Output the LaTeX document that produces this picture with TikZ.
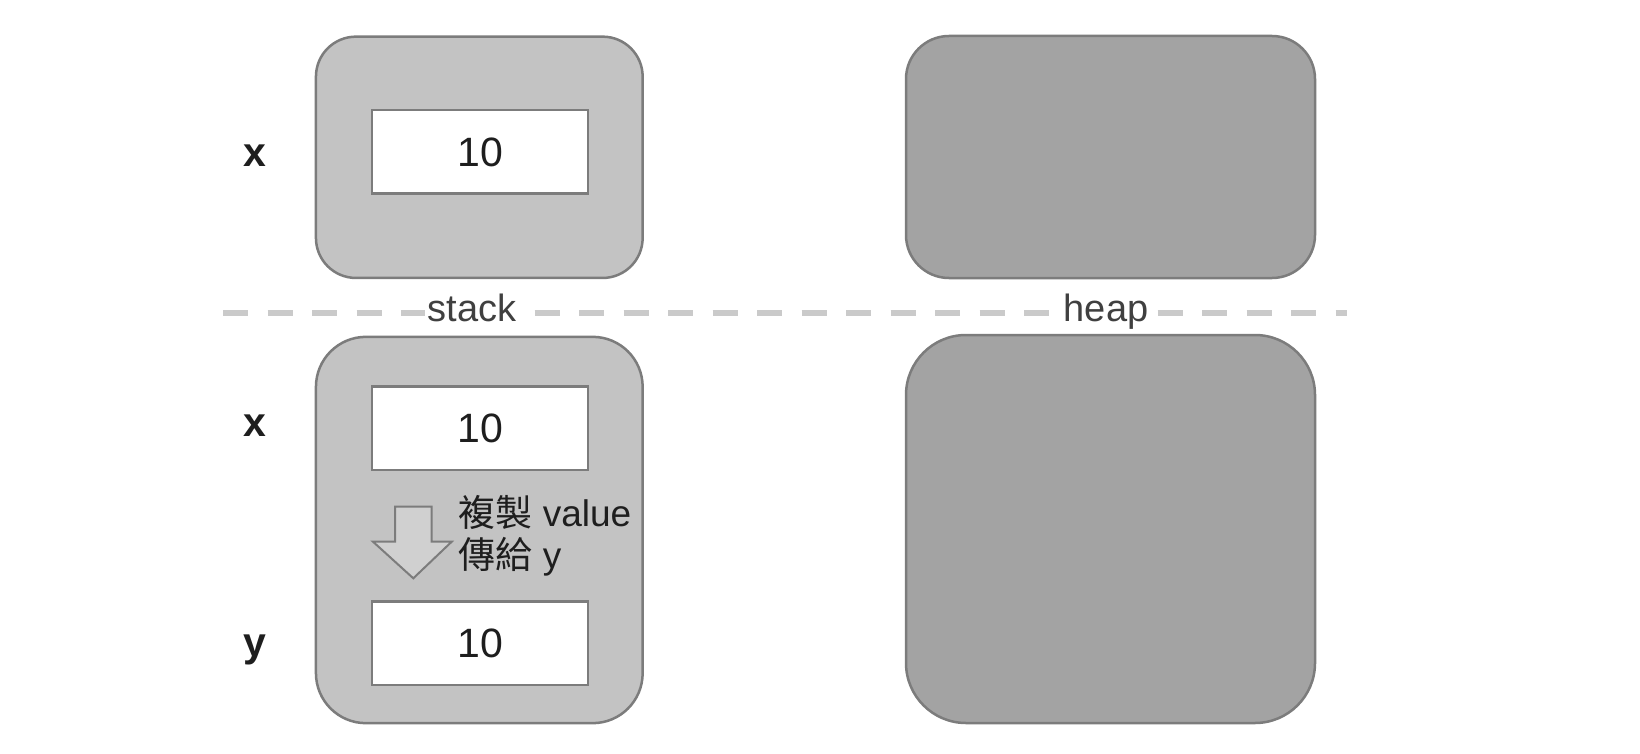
\documentclass[tikz,border=0pt]{standalone}
\usepackage{fontspec}
\setmainfont{Liberation Sans}
\newfontfamily\cjk{Noto Sans CJK TC}
\definecolor{stackfill}{HTML}{C3C3C3}
\definecolor{heapfill}{HTML}{A3A3A3}
\definecolor{edgegray}{HTML}{7C7C7C}
\definecolor{dashgray}{HTML}{CACACA}
\definecolor{txt}{HTML}{1E1E1E}
\definecolor{arrowfill}{HTML}{D0D0D0}
\begin{document}
\begin{tikzpicture}[x=1pt,y=-1pt,
  every node/.style={font=\fontsize{37}{42}\selectfont, text=txt},
  stackbox/.style={draw=edgegray, line width=2.5pt, fill=stackfill, minimum width=326.7pt},
  heapbox/.style={draw=edgegray, line width=2.5pt, fill=heapfill, minimum width=409pt},
  cell/.style={draw=edgegray, line width=2.5pt, fill=white, minimum width=216.3pt, minimum height=83.5pt, inner sep=0pt, font=\fontsize{41}{46}\selectfont},
  varlabel/.style={anchor=base, font=\fontsize{41}{46}\selectfont\bfseries, inner sep=0pt},
  divider/.style={draw=dashgray, line width=6pt, dash pattern=on 25pt off 19.5pt},
  arealabel/.style={anchor=base, fill=white, inner xsep=3pt, inner ysep=1pt, text=txt!85!white, font=\fontsize{38}{42}\selectfont},
  copyarrow/.style={draw=edgegray, line width=2pt, fill=arrowfill, line join=miter}
]
\useasboundingbox (0,0) rectangle (1640,754);
\fill[white] (0,0) rectangle (1640,754);

% divider
\coordinate (dl) at (223,313);
\coordinate (dr) at (1347,313);
\draw[divider] (dl) -- (dr);
\node[arealabel] (stacklbl) at (472,321) {stack};
\node[arealabel] (heaplbl) at (1106,321) {heap};

% top: stack and heap
\node[stackbox, minimum height=241.3pt, rounded corners=40pt] (stack1) at (479.3,157.3) {};
\node[heapbox, minimum height=242pt, rounded corners=43pt] (heap1) at (1110.5,157) {};
\node[cell] (xv1) at (480,152) {10};
\node[varlabel] (xl1) at (255,166.7) {x};

% bottom: stack and heap
\node[stackbox, minimum height=386.3pt, rounded corners=50pt] (stack2) at (479.3,530) {};
\node[heapbox, minimum height=388pt, rounded corners=60pt] (heap2) at (1110.5,529) {};
\node[cell] (xv2) at (480,428.3) {10};
\node[cell] (yv2) at (480,643.3) {10};
\node[varlabel] (xl2) at (255,436.7) {x};
\node[varlabel] (yl2) at (255,656) {y};

% copy arrow
\draw[copyarrow] (395,506.7) -- (431.7,506.7) -- (431.7,541.7) -- (451.7,541.7)
  -- (413.3,578.3) -- (373,541.7) -- (395,541.7) -- cycle;
\node[anchor=base west, inner sep=0pt] (copy1) at (458.3,526.7) {{\cjk 複製} value};
\node[anchor=base west, inner sep=0pt] (copy2) at (458.3,568.3) {{\cjk 傳給} y};
\end{tikzpicture}
\end{document}
